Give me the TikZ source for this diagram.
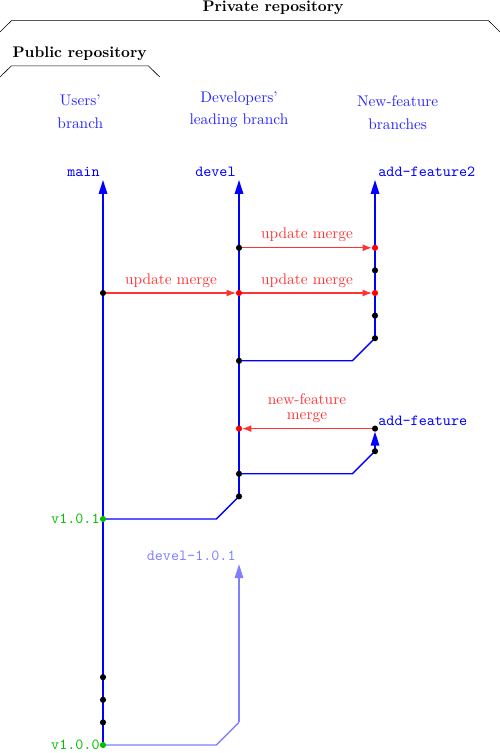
\documentclass[tikz,border=0pt]{standalone}
\usepackage{tikz}
\usetikzlibrary{arrows.meta}

\colorlet{mergered}{red!80}
\colorlet{taggreen}{green!75!black}

\begin{document}
\begin{tikzpicture}[x=14.744pt, y=14.7pt,
    branch/.style={draw=blue, line width=0.9pt},
    oldbranch/.style={draw=blue!50, line width=0.9pt},
    headtip/.style={-{Triangle[length=9pt, width=5.5pt]}},
    merge/.style={draw=mergered, line width=0.8pt, -{Latex[length=6pt, width=4.5pt]}, shorten >=2pt},
    branchname/.style={blue, font=\ttfamily, inner sep=2pt},
    tagname/.style={taggreen, font=\ttfamily, inner sep=2pt},
    about/.style={blue!85, align=center},
    repo/.style={font=\bfseries, inner sep=3.5pt}]
    \useasboundingbox (-4.544,-0.354) rectangle (17.514,32.965);

    % commits: main (x=0), devel (x=6), feature branches (x=12)
    \foreach \y in {0,1,2,3,10,20} \coordinate (m\y) at (0,\y);
    \foreach \y in {1,8,11,12,14,17,20,22} \coordinate (d\y) at (6,\y);
    \foreach \y in {13,14,18,19,20,21,22} \coordinate (f\y) at (12,\y);
    \coordinate (mtop) at (0,25);
    \coordinate (dtop) at (6,25);
    \coordinate (ftop) at (12,25);

    % repositories
    \draw (-4.544,31.55) -- (-4.04,32.05) coordinate (privl) -- (17.01,32.05) coordinate (privr) -- (17.514,31.55);
    \node[repo, above] (tpriv) at (7.5,32.05) {Private repository};
    \draw (-4.544,29.56) -- (-4.04,30.05) coordinate (publ) -- (2.0,30.05) coordinate (pubr) -- (2.5,29.56);
    \node[repo, above] (tpub) at (-1.03,30.05) {Public repository};

    \node[about] (dusers) at (-1,28) {Users'\\[3pt]branch};
    \node[about] (ddevel) at (6,28.1) {Developers'\\[2.5pt]leading branch};
    \node[about] (dfeat) at (13,28) {New-feature\\[3pt]branches};

    % old developers' branch
    \draw[oldbranch] (m0) -- (5,0) -- (d1);
    \draw[oldbranch, blue!50, headtip] (d1) -- (d8);
    \node[above left, blue!50, font=\ttfamily, inner sep=2pt] (ldevold) at (d8) {devel-1.0.1};

    % branches
    \draw[branch, blue, headtip] (m0) -- (mtop);
    \draw[branch] (m10) -- (5,10) -- (d11);
    \draw[branch, blue, headtip] (d11) -- (dtop);
    \draw[branch] (d12) -- (11,12) -- (f13);
    \draw[branch, blue, headtip, shorten >=2pt] (f13) -- (f14);
    \draw[branch] (d17) -- (11,17) -- (f18);
    \draw[branch, blue, headtip] (f18) -- (ftop);

    \node[branchname, above left] (lmain) at (mtop) {main};
    \node[branchname, above left] (ldevel) at (dtop) {devel};
    \node[branchname, above right] (lfeat2) at (ftop) {add-feature2};
    \node[branchname, above right] (lfeat) at (f14) {add-feature};

    % merges
    \draw[merge, mergered] (m20) -- node[above] (mu1) {update merge} (d20);
    \draw[merge, mergered] (d20) -- node[above] (mu2) {update merge} (f20);
    \draw[merge, mergered] (d22) -- node[above] (mu3) {update merge} (f22);
    \draw[merge, mergered] (f14) -- node[above, align=center] (mnew) {new-feature\\[-2pt]merge} (d14);

    % commit dots
    \foreach \c in {m1,m2,m3,m20,d11,d12,d17,d22,f13,f14,f18,f19,f21}
        \fill[black] (\c) circle (2pt);
    \foreach \c in {d14,d20,f20,f22}
        \fill[red] (\c) circle (2pt);
    \foreach \c in {m0,m10}
        \fill[taggreen] (\c) circle (2pt);

    \node[tagname, left] (lv100) at (m0) {v1.0.0};
    \node[tagname, left] (lv101) at (m10) {v1.0.1};
\end{tikzpicture}
\end{document}
